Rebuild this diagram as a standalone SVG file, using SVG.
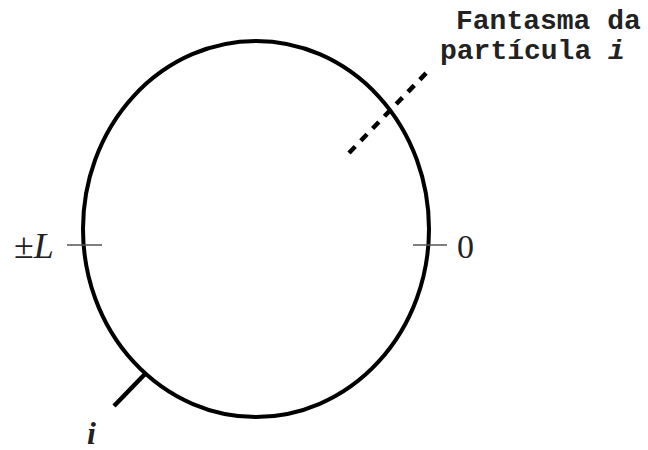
<svg xmlns="http://www.w3.org/2000/svg" width="648" height="450" viewBox="0 0 648 450">
<style>
.ring{fill:none;stroke:#000;stroke-width:4}
.tick{stroke:#555;stroke-width:1.6}
.lead{stroke:#000;stroke-width:4.5;fill:none}
.dash{stroke-dasharray:9 8}
.mono{font-family:"Liberation Mono","Courier New",monospace;font-weight:bold;font-size:28px;fill:#222}
.serif{font-family:"Liberation Serif","Times New Roman",serif;fill:#222}
</style>
<rect width="648" height="450" fill="#fff"/>
<g id="ring">
<ellipse class="ring" cx="256" cy="229" rx="173" ry="188"/>
</g>
<g id="connectors">
<line class="tick" x1="67" y1="245" x2="102" y2="245"/>
<line class="tick" x1="413" y1="245" x2="447" y2="245"/>
<line class="lead" x1="114" y1="406" x2="145" y2="374"/>
<line class="lead dash" x1="349" y1="153" x2="431" y2="68"/>
</g>
<g id="label-L">
<text class="serif" x="14" y="258" font-size="36">±<tspan font-style="italic">L</tspan></text>
</g>
<g id="label-0">
<text class="serif" x="457" y="258" font-size="34">0</text>
</g>
<g id="label-i">
<text class="serif" x="87" y="444" font-size="32" font-style="italic" font-weight="bold">i</text>
</g>
<g id="label-ghost">
<text class="mono" x="456" y="29">Fantasma da</text>
<text class="mono" x="440" y="59">partícula <tspan font-style="italic">i</tspan></text>
</g>
</svg>
